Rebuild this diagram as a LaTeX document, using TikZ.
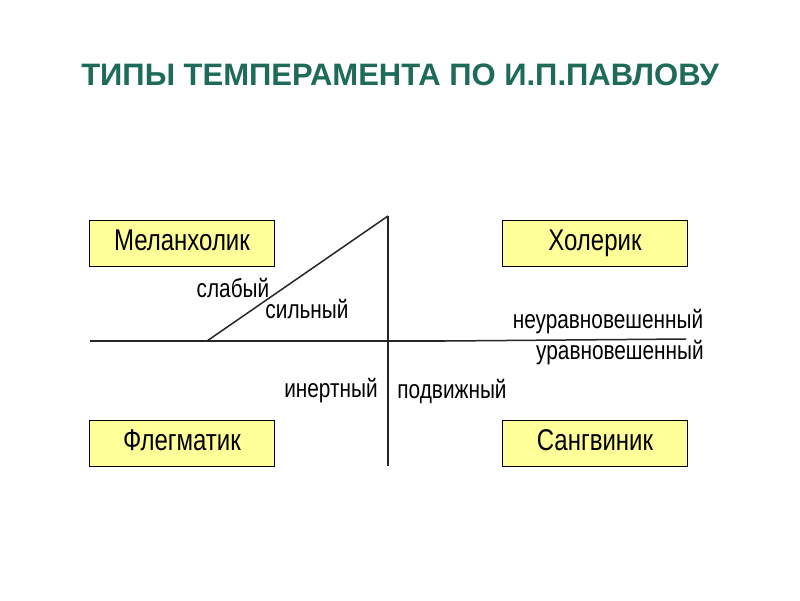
\documentclass[tikz,border=0pt]{standalone}
\usepackage{fontspec}
\setmainfont{Liberation Sans}
\newfontfamily\narrowf[FakeStretch=0.8]{Liberation Sans}
\usetikzlibrary{positioning}
\definecolor{titlegreen}{HTML}{1E6B5A}
\definecolor{boxyellow}{HTML}{FFFF99}
\tikzset{
  typebox/.style={draw, thick, fill=boxyellow, minimum width=185pt, minimum height=46pt,
    text height=20pt, text depth=6pt, font=\narrowf\fontsize{30}{32}\selectfont},
  lbl/.style={font=\narrowf\fontsize{26}{28}\selectfont, inner sep=0pt},
  axis/.style={line width=1.5pt, draw=black!85}
}
\begin{document}
\begin{tikzpicture}[x=1pt,y=-1pt]
\useasboundingbox (0,0) rectangle (800,600);
\node[font=\bfseries\fontsize{31}{34}\selectfont, text=titlegreen] (title) at (400,75) {ТИПЫ ТЕМПЕРАМЕНТА ПО И.П.ПАВЛОВУ};

% types
\node[typebox] (mel) at (182,243) {Меланхолик};
\node[typebox] (hol) at (595,243) {Холерик};
\node[typebox] (fle) at (182,443) {Флегматик};
\node[typebox] (san) at (595,443) {Сангвиник};

% axes
\coordinate (vt) at (388,216);
\coordinate (vb) at (388,466);
\coordinate (hl) at (90,341);
\coordinate (hm) at (445,341);
\coordinate (hr) at (686,339);
\coordinate (tri) at (207,341);
\draw[axis] (vt) -- (vb);
\draw[axis] (hl) -- (hm);
\draw[axis] (hm) -- (hr);
\draw[axis] (tri) -- (vt);

% labels
\node[lbl] (weak) at (233,288) {слабый};
\node[lbl] (strong) at (307,309) {сильный};
\node[lbl] (unbal) at (608,322) {неуравновешенный};
\node[lbl] (bal) at (620,353) {уравновешенный};
\node[lbl] (inert) at (331,391) {инертный};
\node[lbl] (mob) at (452,391) {подвижный};
\end{tikzpicture}
\end{document}
